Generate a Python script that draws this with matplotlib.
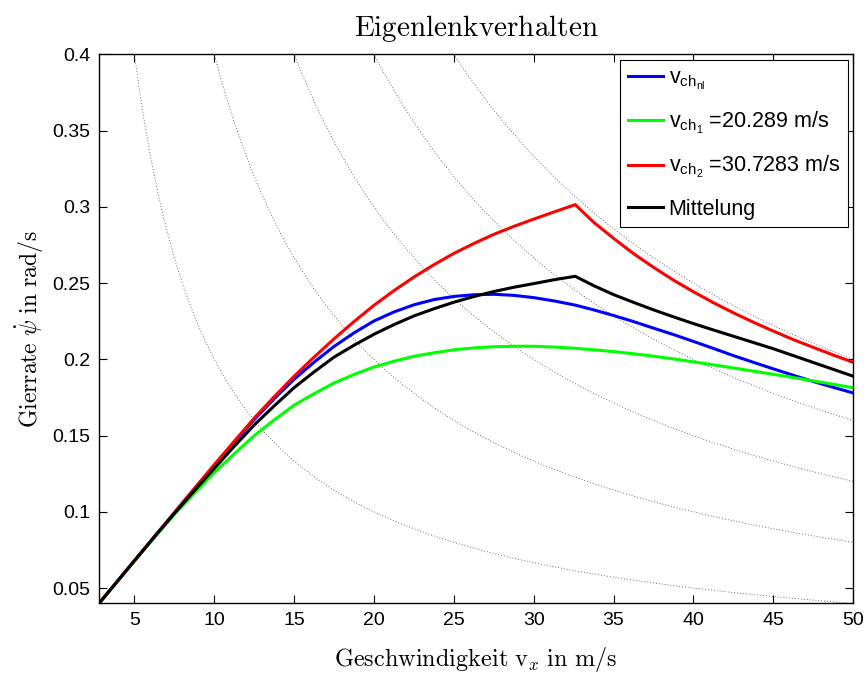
import numpy as np
import matplotlib
matplotlib.use("Agg")
import matplotlib.pyplot as plt

plt.rcParams['font.family'] = ['Liberation Sans', 'DejaVu Sans']
plt.rcParams['mathtext.fontset'] = 'custom'
plt.rcParams['mathtext.rm'] = 'Liberation Sans'
plt.rcParams['mathtext.it'] = 'Liberation Sans:italic'

# Geschwindigkeit in m/s
v = [2.78, 3.75, 5, 6.25, 7.5, 8.75, 10, 11.25, 12.5, 13.75, 15, 16.25,
     17.5, 18.75, 20, 21.25, 22.5, 23.75, 25, 26.25, 27.5, 28.75, 30,
     31.25, 32.6, 33.75, 35, 36.25, 37.5, 38.75, 40, 41.25, 42.5, 43.75,
     45, 46.25, 47.5, 48.75, 50]
# Gierrate in rad/s
psi_nl = [0.040, 0.0522, 0.068, 0.0838, 0.0995, 0.1151, 0.1305, 0.1457,
          0.1605, 0.1742, 0.187, 0.1982, 0.2085, 0.2174, 0.2252, 0.2311,
          0.2358, 0.2392, 0.2413, 0.2424, 0.2427, 0.2420, 0.2405, 0.2384,
          0.2356, 0.2325, 0.2288, 0.2248, 0.2205, 0.2163, 0.2118, 0.2072,
          0.2025, 0.1981, 0.1938, 0.1896, 0.1855, 0.1817, 0.178]
psi_1 = [0.040, 0.0522, 0.0678, 0.0832, 0.0983, 0.1122, 0.1258, 0.1381,
         0.150, 0.1603, 0.170, 0.1775, 0.1845, 0.1901, 0.195, 0.1988,
         0.202, 0.2043, 0.2063, 0.2075, 0.2083, 0.2086, 0.2086, 0.2081,
         0.2073, 0.2063, 0.2051, 0.2037, 0.2021, 0.2003, 0.1984, 0.1964,
         0.1944, 0.1923, 0.1902, 0.1881, 0.1859, 0.1837, 0.1814]
psi_2 = [0.040, 0.0522, 0.068, 0.0838, 0.0995, 0.1153, 0.131, 0.1463,
         0.1615, 0.1755, 0.189, 0.2015, 0.2135, 0.2248, 0.2355, 0.2451,
         0.254, 0.2621, 0.2695, 0.276, 0.282, 0.2872, 0.292, 0.2966,
         0.3015, 0.290, 0.2794, 0.2694, 0.2604, 0.252, 0.2444, 0.2372,
         0.2306, 0.2244, 0.2186, 0.213, 0.2079, 0.2029, 0.1981]
psi_mit = [0.040, 0.0522, 0.068, 0.0836, 0.099, 0.1139, 0.1285, 0.143,
           0.157, 0.1695, 0.1815, 0.1918, 0.2015, 0.2093, 0.2165, 0.2228,
           0.2285, 0.2332, 0.2375, 0.2412, 0.2445, 0.2473, 0.2497, 0.2522,
           0.2545, 0.2484, 0.2425, 0.2374, 0.2325, 0.2279, 0.2235, 0.2193,
           0.2152, 0.2111, 0.207, 0.2025, 0.198, 0.1935, 0.189]

# Linien konstanter Querbeschleunigung in m/s^2
a_quer = [2, 4, 6, 8, 10]

labels = [r'v$_{\mathrm{ch}_{\mathrm{nl}}}$',
          r'v$_{\mathrm{ch}_1}$ =20.289 m/s',
          r'v$_{\mathrm{ch}_2}$ =30.7283 m/s',
          'Mittelung']

fig = plt.figure(figsize=(8.65, 6.75), dpi=100)
ax = fig.add_axes([0.1145, 0.1062, 0.8717, 0.8131])

vv = np.linspace(2.78, 50, 400)
for a in a_quer:
    ax.plot(vv, a / vv, color='0.25', lw=0.6, ls=(0, (1, 2.5)))

ax.plot(v, psi_nl, color='#0000ff', lw=2.2, label=labels[0])
ax.plot(v, psi_1, color='#00ff00', lw=2.2, label=labels[1])
ax.plot(v, psi_2, color='#ff0000', lw=2.2, label=labels[2])
ax.plot(v, psi_mit, color='k', lw=2.2, label=labels[3])

ax.set_xlim(2.78, 50)
ax.set_ylim(0.04, 0.4)
ax.set_xticks([5, 10, 15, 20, 25, 30, 35, 40, 45, 50])
ax.set_yticks([0.05, 0.1, 0.15, 0.2, 0.25, 0.3, 0.35, 0.4])
ax.set_yticklabels(['0.05', '0.1', '0.15', '0.2', '0.25', '0.3', '0.35', '0.4'])
ax.tick_params(direction='in', top=True, right=True, labelsize=14,
               length=6, width=0.8, pad=6)
for s in ax.spines.values():
    s.set_linewidth(1.0)

ax.set_title(r'$\mathrm{Eigenlenkverhalten}$', fontsize=21,
             math_fontfamily='cm', pad=13)
ax.set_xlabel(r'$\mathrm{Geschwindigkeit\ v}_x\mathrm{\ in\ m/s}$',
              fontsize=17.5, math_fontfamily='cm', labelpad=12)
ax.set_ylabel(r'$\mathrm{Gierrate\ }\dot{\psi}\mathrm{\ in\ rad/s}$',
              fontsize=17, math_fontfamily='cm', labelpad=5)

leg = ax.legend(loc='upper right', fontsize=15.5, handlelength=1.65,
                handletextpad=0.25, borderaxespad=0.25, labelspacing=0.85,
                borderpad=0.35, fancybox=False, framealpha=1, edgecolor='k')
leg.get_frame().set_linewidth(0.8)

fig.savefig('out.png', dpi=100)
